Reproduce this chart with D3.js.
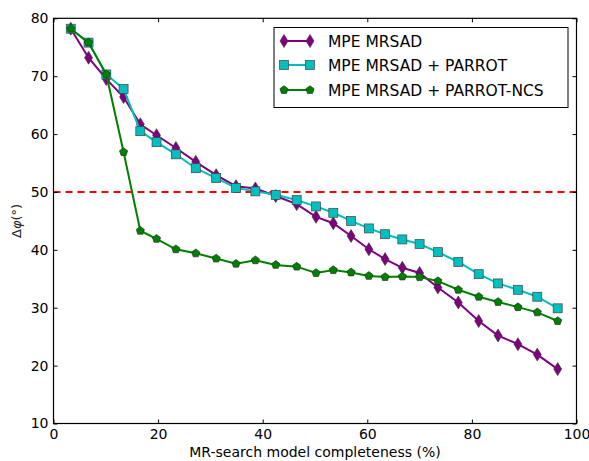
<!DOCTYPE html>
<html><head><meta charset="utf-8">
<script src="https://cdn.jsdelivr.net/npm/d3@7"></script>
<style>body{margin:0;background:#fff;} svg{display:block;}</style>
</head><body>
<script>
const completeness = [3.3, 6.7, 10.1, 13.4, 16.6, 19.7, 23.4, 27.2, 31.1, 34.9, 38.6, 42.5, 46.5, 50.2, 53.5, 56.9, 60.3, 63.4, 66.7, 70.0, 73.5, 77.4, 81.3, 85.0, 88.8, 92.5, 96.4];
const mrsad = [78.2, 73.2, 69.5, 66.4, 61.7, 59.8, 57.6, 55.2, 52.9, 51.0, 50.6, 49.3, 47.9, 45.7, 44.6, 42.4, 40.1, 38.4, 36.9, 36.0, 33.5, 30.9, 27.7, 25.2, 23.7, 21.9, 19.4];
const mrsadParrot = [78.2, 75.8, 70.3, 67.8, 60.5, 58.6, 56.5, 54.1, 52.4, 50.7, 50.1, 49.5, 48.6, 47.5, 46.4, 45.0, 43.7, 42.7, 41.8, 41.0, 39.6, 37.9, 35.8, 34.2, 33.1, 31.9, 29.9];
const mrsadParrotNcs = [78.2, 75.8, 70.3, 56.9, 43.3, 41.9, 40.1, 39.4, 38.5, 37.6, 38.2, 37.4, 37.1, 36.0, 36.5, 36.1, 35.5, 35.3, 35.4, 35.3, 34.6, 33.1, 31.9, 31.0, 30.1, 29.2, 27.7];
const seriesNames = ["MPE MRSAD", "MPE MRSAD + PARROT", "MPE MRSAD + PARROT-NCS"];
const xTicks = [0, 20, 40, 60, 80, 100];
const yTicks = [10, 20, 30, 40, 50, 60, 70, 80];
const threshold = 50;

const W = 589, H = 461;
const m = {left: 53.5, right: 589 - 576.5, top: 18.3, bottom: 461 - 423.5};
const svg = d3.select("body").append("svg").attr("width", W).attr("height", H)
  .style("font-family", "'DejaVu Sans', sans-serif");

const x = d3.scaleLinear().domain([0, 100]).range([m.left, W - m.right]);
const y = d3.scaleLinear().domain([10, 80]).range([H - m.bottom, m.top]);

const series = [
  {name: seriesNames[0], vals: mrsad, color: "#800080", marker: "diamond"},
  {name: seriesNames[1], vals: mrsadParrot, color: "#00bfbf", marker: "square"},
  {name: seriesNames[2], vals: mrsadParrotNcs, color: "#008000", marker: "pentagon"}
];

function drawMarker(g, type, cx, cy, color) {
  if (type === "diamond") {
    g.append("path").attr("d", `M${cx},${cy-6.5} L${cx+4},${cy} L${cx},${cy+6.5} L${cx-4},${cy} Z`)
      .attr("fill", color).attr("stroke", "#333").attr("stroke-width", 0.6);
  } else if (type === "square") {
    g.append("rect").attr("x", cx - 4.5).attr("y", cy - 4.5).attr("width", 9).attr("height", 9)
      .attr("fill", color).attr("stroke", "#444").attr("stroke-width", 0.7);
  } else {
    const r = 4.3;
    const pts = d3.range(5).map(i => {
      const a = -Math.PI / 2 + i * 2 * Math.PI / 5;
      return [cx + r * Math.cos(a), cy + r * Math.sin(a)];
    });
    g.append("path").attr("d", "M" + pts.map(p => p.join(",")).join("L") + "Z")
      .attr("fill", color).attr("stroke", "#222").attr("stroke-width", 0.6);
  }
}

// threshold line
svg.append("line").attr("x1", x(0)).attr("x2", x(100)).attr("y1", y(threshold)).attr("y2", y(threshold))
  .attr("stroke", "#ff0000").attr("stroke-width", 2).attr("stroke-dasharray", "7,5");

const line = d3.line().x((d, i) => x(completeness[i])).y(d => y(d));
series.forEach(s => {
  const g = svg.append("g");
  g.append("path").attr("d", line(s.vals)).attr("fill", "none")
    .attr("stroke", s.color).attr("stroke-width", 2);
  s.vals.forEach((v, i) => drawMarker(g, s.marker, x(completeness[i]), y(v), s.color));
});

// axes with inward ticks on all sides
const fs = "14px";
const xb = svg.append("g").attr("transform", `translate(0,${y(10)})`)
  .call(d3.axisBottom(x).tickValues(xTicks).tickSizeInner(-4).tickSizeOuter(0).tickPadding(5));
const xt = svg.append("g").attr("transform", `translate(0,${y(80)})`)
  .call(d3.axisTop(x).tickValues(xTicks).tickSizeInner(-4).tickSizeOuter(0).tickFormat(""));
const yl = svg.append("g").attr("transform", `translate(${x(0)},0)`)
  .call(d3.axisLeft(y).tickValues(yTicks).tickSizeInner(-4).tickSizeOuter(0).tickPadding(5));
const yr = svg.append("g").attr("transform", `translate(${x(100)},0)`)
  .call(d3.axisRight(y).tickValues(yTicks).tickSizeInner(-4).tickSizeOuter(0).tickFormat(""));
[xb, xt, yl, yr].forEach(a => {
  a.select(".domain").remove();
  a.selectAll("line").attr("stroke", "#000").attr("stroke-width", 1);
  a.selectAll("text").attr("fill", "#000").style("font-size", fs).style("font-family", "'DejaVu Sans', sans-serif");
});
xb.selectAll("text").attr("dy", "0.72em");
svg.append("rect").attr("x", x(0)).attr("y", y(80)).attr("width", x(100) - x(0)).attr("height", y(10) - y(80))
  .attr("fill", "none").attr("stroke", "#000").attr("stroke-width", 1.2);

// axis labels
svg.append("text").attr("x", (x(0) + x(100)) / 2).attr("y", 457).attr("text-anchor", "middle")
  .style("font-size", "14px").text("MR-search model completeness (%)");
const yLab = svg.append("text").attr("transform", `translate(21,${(y(10) + y(80)) / 2}) rotate(-90)`)
  .attr("text-anchor", "middle").style("font-size", "13px").attr("fill", "#222");
yLab.append("tspan").text("Δ");
yLab.append("tspan").style("font-style", "italic").text("φ");
yLab.append("tspan").text("(°)");

// legend
const lg = svg.append("g");
lg.append("rect").attr("x", 274).attr("y", 27.5).attr("width", 294).attr("height", 80)
  .attr("fill", "#fff").attr("stroke", "#000").attr("stroke-width", 1);
const rowsY = [41, 65, 90];
series.forEach((s, i) => {
  lg.append("line").attr("x1", 284).attr("x2", 310).attr("y1", rowsY[i]).attr("y2", rowsY[i])
    .attr("stroke", s.color).attr("stroke-width", 2);
  drawMarker(lg, s.marker, 284, rowsY[i], s.color);
  drawMarker(lg, s.marker, 310, rowsY[i], s.color);
  lg.append("text").attr("x", 328).attr("y", rowsY[i]).attr("dy", "0.36em")
    .style("font-size", "15.5px").text(s.name);
});
</script>
</body></html>
